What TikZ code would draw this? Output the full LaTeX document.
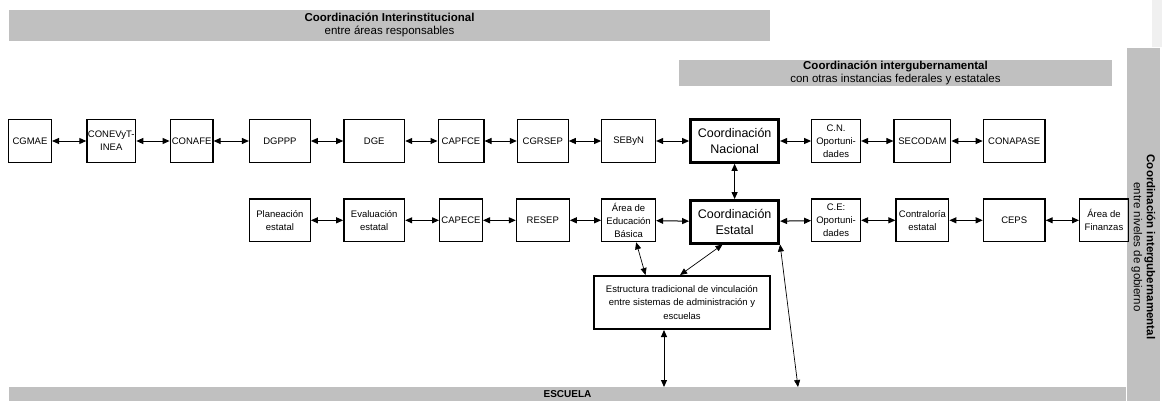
\documentclass[tikz,border=0pt]{standalone}
\usepackage{fontspec}
\setmainfont{Liberation Sans}
\usetikzlibrary{positioning, arrows.meta}
\definecolor{bandgray}{RGB}{192,192,192}
\tikzset{
    org_box/.style={rectangle, draw=black, line width=1.3pt, minimum height=42.7pt, inner sep=1pt, text centered, align=center, font=\fontsize{9.5}{13}\selectfont},
    coord_box/.style={org_box, line width=2.8pt, minimum width=88.2pt, font=\fontsize{12.5}{15.5}\selectfont},
    struct_box/.style={org_box, line width=2pt, minimum width=176pt, minimum height=53pt, font=\fontsize{9.5}{13.3}\selectfont},
    band/.style={rectangle, fill=bandgray, inner sep=0pt, text centered, align=center, font=\fontsize{11.5}{13}\selectfont},
    link/.style={line width=1pt, <->, >={Triangle[length=7pt, width=6pt]}},
    thin_link/.style={line width=0.7pt, <->, >={Triangle[length=7pt, width=6pt]}},
}

\begin{document}
\begin{tikzpicture}[x=1pt, y=-1pt, node distance=35.3pt and 32.3pt]
            \useasboundingbox (0,0) rectangle (1162,400);
            \fill [black!6] (1152,0) rectangle (1162,47);

            %%%%%%%%%
            % BANDS %
            %%%%%%%%%
            \node (interinst) [band, minimum width=761pt, minimum height=31pt] at (389.5,25)
                    {\textbf{Coordinación Interinstitucional} \\ entre áreas responsables};
            \node (intergub_fed) [band, minimum width=433pt, minimum height=26pt] at (895.5,73)
                    {\textbf{Coordinación intergubernamental} \\ con otras instancias federales y estatales};
            \node (intergub_niv) [band, rotate=-90, minimum width=398pt, minimum height=33pt] at (1143.5,247)
                    {\textbf{Coordinación intergubernamental} \\ entre niveles de gobierno};
            \node (escuela) [band, minimum width=1117pt, minimum height=14pt, font=\fontsize{10}{12}\selectfont] at (567.5,394)
                    {\textbf{ESCUELA}};
            \coordinate (esc_left) at (664,387);
            \coordinate (esc_right) at (798,387);

            %%%%%%%%%%%%%%%%%%%%%%%
            % NIVEL FEDERAL       %
            %%%%%%%%%%%%%%%%%%%%%%%
            \node (cgmae) [org_box, minimum width=42.7pt] at (30,141)
                    {CGMAE};
            \node (conevyt) [org_box, minimum width=48.7pt, right=34.3pt of cgmae]
                    {CONEVyT-\\INEA};
            \node (conafe) [org_box, minimum width=42.7pt, right=33.3pt of conevyt]
                    {CONAFE};
            \node (dgppp) [org_box, minimum width=60.7pt, right=35.3pt of conafe]
                    {DGPPP};
            \node (dge) [org_box, minimum width=60.7pt, right=of dgppp]
                    {DGE};
            \node (capfce) [org_box, minimum width=45.7pt, right=of dge]
                    {CAPFCE};
            \node (cgrsep) [org_box, minimum width=50.7pt, right=of capfce]
                    {CGRSEP};
            \node (sebyn) [org_box, minimum width=53.7pt, right=of cgrsep]
                    {SEByN};
            \node (coord_nac) [coord_box, right=33pt of sebyn]
                    {Coordinación \\ Nacional};
            \node (cn_oport) [org_box, minimum width=48.7pt, right=31pt of coord_nac]
                    {C.N. \\ Oportuni- \\ dades};
            \node (secodam) [org_box, minimum width=56.7pt, right=of cn_oport]
                    {SECODAM};
            \node (conapase) [org_box, minimum width=61.7pt, right=31.3pt of secodam]
                    {CONAPASE};

            \draw [link] (cgmae) -- (conevyt);
            \draw [link] (conevyt) -- (conafe);
            \draw [link] (conafe) -- (dgppp);
            \draw [link] (dgppp) -- (dge);
            \draw [link] (dge) -- (capfce);
            \draw [link] (capfce) -- (cgrsep);
            \draw [link] (cgrsep) -- (sebyn);
            \draw [link] (sebyn) -- (coord_nac);
            \draw [link] (coord_nac) -- (cn_oport);
            \draw [link] (cn_oport) -- (secodam);
            \draw [link] (secodam) -- (conapase);

            %%%%%%%%%%%%%%%%%%%%%%%
            % NIVEL ESTATAL       %
            %%%%%%%%%%%%%%%%%%%%%%%
            \node (plan_est) [org_box, minimum width=60.7pt, below=of dgppp]
                    {Planeación \\ estatal};
            \node (eval_est) [org_box, minimum width=60.7pt, below=of dge]
                    {Evaluación \\ estatal};
            \node (capece) [org_box, minimum width=42.7pt, below=of capfce]
                    {CAPECE};
            \node (resep) [org_box, minimum width=52.7pt, below=of cgrsep]
                    {RESEP};
            \node (area_basica) [org_box, minimum width=53.7pt, below=of sebyn]
                    {Área de \\ Educación \\ Básica};
            \node (coord_est) [coord_box, below=of coord_nac]
                    {Coordinación \\ Estatal};
            \node (ce_oport) [org_box, minimum width=48.7pt, below=of cn_oport]
                    {C.E: \\ Oportuni- \\ dades};
            \node (contraloria) [org_box, minimum width=52.7pt, below=of secodam]
                    {Contraloría \\ estatal};
            \node (ceps) [org_box, minimum width=61.7pt, below=of conapase]
                    {CEPS};
            \node (area_fin) [org_box, minimum width=48.7pt, right=33.3pt of ceps]
                    {Área de \\ Finanzas};

            \draw [link] (coord_nac) -- (coord_est);
            \draw [link] (plan_est) -- (eval_est);
            \draw [link] (eval_est) -- (capece);
            \draw [link] (capece) -- (resep);
            \draw [link] (resep) -- (area_basica);
            \draw [link] (area_basica) -- (coord_est);
            \draw [link] (coord_est) -- (ce_oport);
            \draw [link] (ce_oport) -- (contraloria);
            \draw [link] (contraloria) -- (ceps);
            \draw [link] (ceps) -- (area_fin);

            %%%%%%%%%%%%%%%%%%%%%%%
            % ESTRUCTURA          %
            %%%%%%%%%%%%%%%%%%%%%%%
            \node (estructura) [struct_box] at (682,302.5)
                    {Estructura tradicional de vinculación \\ entre sistemas de administración y \\ escuelas};

            \draw [thin_link] (area_basica.-71) -- (estructura.143);
            \draw [thin_link] (coord_est.-118) -- (estructura.94);
            \draw [thin_link] (coord_est.south east) -- (esc_right);
            \draw [link] (estructura.south -| esc_left) -- (esc_left);
\end{tikzpicture}
\end{document}
